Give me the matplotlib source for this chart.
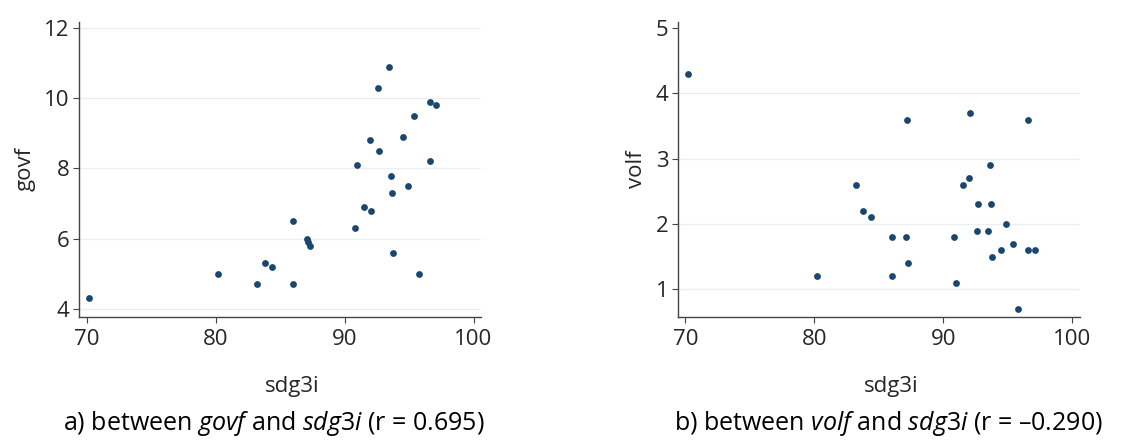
import matplotlib.pyplot as plt

# values (same countries in both panels)
sdg3i = [70.2, 80.2, 83.2, 83.8, 84.4, 86.0, 86.0, 87.1, 87.2, 87.3, 90.8, 91.0, 91.5, 92.0,
         92.05, 92.6, 92.7, 93.45, 93.6, 93.7, 93.75, 94.5, 94.9, 95.4, 95.8, 96.6, 96.6, 97.1]
govf = [4.3, 5.0, 4.7, 5.3, 5.2, 6.5, 4.7, 6.0, 5.9, 5.8, 6.3, 8.1, 6.9, 8.8,
        6.8, 10.3, 8.5, 10.9, 7.8, 7.3, 5.6, 8.9, 7.5, 9.5, 5.0, 8.2, 9.9, 9.8]
volf = [4.3, 1.2, 2.6, 2.2, 2.1, 1.8, 1.2, 1.8, 3.6, 1.4, 1.8, 1.1, 2.6, 2.7,
        3.7, 1.9, 2.3, 1.9, 2.9, 2.3, 1.5, 1.6, 2.0, 1.7, 0.7, 3.6, 1.6, 1.6]

xticks = [70, 80, 90, 100]
govf_ticks = [4, 6, 8, 10, 12]
volf_ticks = [1, 2, 3, 4, 5]
captions = ["a) between $\\it{govf}$ and $\\it{sdg3i}$ (r = 0.695)",
            "b) between $\\it{volf}$ and $\\it{sdg3i}$ (r = \u20130.290)"]

plt.rcParams['font.family'] = ['Open Sans', 'DejaVu Sans']
plt.rcParams['mathtext.fontset'] = 'custom'
plt.rcParams['mathtext.it'] = 'Open Sans:italic'
plt.rcParams['mathtext.rm'] = 'Open Sans'

navy = '#1a476f'
grid_col = '#e8f0f2'
txt = '#262626'

fig = plt.figure(figsize=(11.39, 4.41), dpi=100)
W, H = 1139, 441

panels = [
    (79.3, govf, "govf", govf_ticks, (3.77, 12.19), [4, 6, 8, 10, 12], 0.24),
    (678, volf, "volf", volf_ticks, (0.58, 5.1), [1, 2, 3, 4], 0.78),
]

for i, (left, yvals, ylab, yt, ylim, grid_at, capx) in enumerate(panels):
    ax = fig.add_axes([left / W, (H - 316.7) / H, 402 / W, 295 / H])
    for g in grid_at:
        ax.axhline(g, color=grid_col, lw=1.0, zorder=0)
    ax.scatter(sdg3i, yvals, s=24, color=navy, linewidths=0, zorder=3)
    ax.set_xlim(69.43, 100.6)
    ax.set_ylim(*ylim)
    ax.set_xticks(xticks)
    ax.set_yticks(yt)
    for s in ['top', 'right']:
        ax.spines[s].set_visible(False)
    for s in ['left', 'bottom']:
        ax.spines[s].set_color('#444444')
        ax.spines[s].set_linewidth(1.0)
    ax.tick_params(colors='#444444', labelcolor=txt, labelsize=16, length=4, width=0.8)
    ax.tick_params(axis='y', pad=3)
    ax.tick_params(axis='x', pad=5)
    ax.set_ylabel(ylab, fontsize=16, color=txt, labelpad=6)
    ax.set_xlabel("sdg3i", fontsize=16, color=txt)
    ax.xaxis.set_label_coords(0.53, -0.2)
    fig.text(capx, 0.025, captions[i], ha='center', va='baseline', fontsize=18, color='black')

plt.savefig("out.png", dpi=100)
